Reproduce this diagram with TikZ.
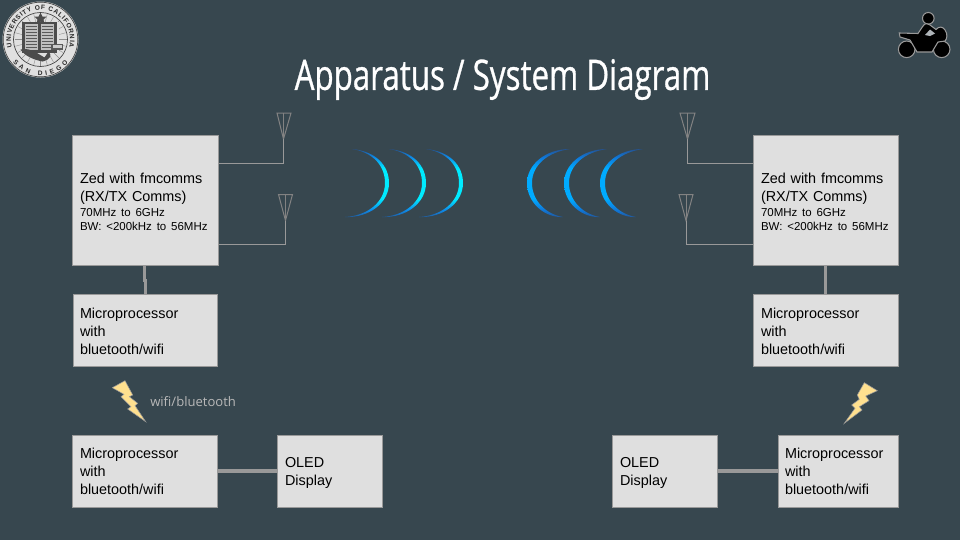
\documentclass[tikz,border=0pt]{standalone}
\usepackage{fontspec}
\setmainfont{Liberation Sans}
\newfontfamily\titlefont[FakeStretch=0.745,FakeBold=0.7]{Open Sans}
\newfontfamily\labelfont{Open Sans}
\usetikzlibrary{decorations.text}
\definecolor{bgc}{HTML}{37474F}
\definecolor{boxc}{HTML}{DFDFDF}
\definecolor{edgec}{HTML}{999999}
\definecolor{boltc}{HTML}{FFE08F}
\newcommand{\bigf}{\fontsize{10.8}{13.5}\selectfont}
\newcommand{\smallf}{\fontsize{8.62}{10.5}\selectfont}
\newcommand{\topstrut}[1]{\rule{0pt}{#1pt}}
\tikzset{
  x=0.75pt,y=-0.75pt,
  box/.style 2 args={draw=edgec,line width=0.75pt,fill=boxc,text=black,rectangle,
    minimum width=#1*0.75pt,minimum height=#2*0.75pt,inner xsep=5pt,inner ysep=0pt,
    text width=(#1-16)*0.75pt,align=left,font=\bigf},
  wire/.style={draw=edgec,line width=0.75pt},
  thick link/.style={draw=edgec,line width=2.4pt},
  antenna/.style={draw=edgec!85!black,line width=0.75pt,line join=miter},
  bolt/.style={fill=boltc,draw=edgec,line width=0.4pt},
}
\pgfdeclareverticalshading{wavecyan}{100bp}{rgb(0bp)=(0.14,0.33,0.58);rgb(25bp)=(0.14,0.33,0.58);rgb(31bp)=(0.05,0.55,0.92);rgb(39bp)=(0,0.92,1);rgb(61bp)=(0,0.92,1);rgb(69bp)=(0.05,0.55,0.92);rgb(75bp)=(0.14,0.33,0.58);rgb(100bp)=(0.14,0.33,0.58)}
\pgfdeclareverticalshading{waveblue}{100bp}{rgb(0bp)=(0.14,0.33,0.58);rgb(25bp)=(0.14,0.33,0.58);rgb(31bp)=(0.06,0.47,0.85);rgb(39bp)=(0,0.67,1);rgb(61bp)=(0,0.67,1);rgb(69bp)=(0.06,0.47,0.85);rgb(75bp)=(0.14,0.33,0.58);rgb(100bp)=(0.14,0.33,0.58)}
\newcommand{\crescentR}[1]{%
  \shade[shading=wavecyan]
    (#1,149) .. controls (#1+23,151) and (#1+37,165) .. (#1+37,183)
    .. controls (#1+37,203) and (#1+17,218) .. (#1-7,217)
    .. controls (#1+14,216) and (#1+33,203) .. (#1+33,183)
    .. controls (#1+33,165) and (#1+20,152) .. (#1,149) -- cycle;}
\newcommand{\crescentL}[1]{%
  \shade[shading=waveblue]
    (#1,149) .. controls (#1-25,149) and (#1-43,165) .. (#1-43,183)
    .. controls (#1-43,203) and (#1-25,218) .. (#1-7,217)
    .. controls (#1-25,214) and (#1-38,200) .. (#1-38,183)
    .. controls (#1-38,165) and (#1-22,152) .. (#1,149) -- cycle;}
\newcommand{\antennashape}[4]{% left x, right x, tip x, top y
  \draw[antenna] (#1,#4) -- (#2,#4) -- (#3,#4+26) -- cycle;
  \draw[antenna] (#3,#4) -- (#3,#4+26);}
\begin{document}
\begin{tikzpicture}
\fill[bgc] (0,0) rectangle (960,540);
\useasboundingbox (0,0) rectangle (960,540);

% title
\node[text=white,font=\titlefont\fontsize{31.5}{36}\selectfont] (title) at (502.5,79.5) {Apparatus / System Diagram};

% seal
\begin{scope}[shift={(0.5,-0.5)}]
\fill[white!88!black] (40,40) circle (38);
\draw[black!75,line width=0.5pt] (40,40) circle (37.3);
\draw[black!75,line width=0.5pt] (40,40) circle (27);
\foreach \a in {0,15,...,345} {\draw[black!45,line width=0.3pt] (40,40) ++(\a:18) -- ++(\a:8);}
\fill[white!88!black] (22,22) rectangle (58,52);
\fill[black!70] (21,22) rectangle (56,53);
\fill[black!25] (24,24) rectangle (37,50);
\fill[black!25] (40,24) rectangle (53,50);
\foreach \yy in {27,30,...,48} {\draw[black!65,line width=0.35pt] (25,\yy) -- (36,\yy); \draw[black!65,line width=0.35pt] (41,\yy) -- (52,\yy);}
\fill[black!70] (40,13) -- (42,17) -- (46,17) -- (43,20) -- (44,24) -- (40,22) -- (36,24) -- (37,20) -- (34,17) -- (38,17) -- cycle;
\fill[black!65] (50,44) rectangle (62,50);
\fill[white!80!black] (52,45) rectangle (61,48);
\fill[black!70] (20,50) .. controls (28,48) and (34,52) .. (44,58) -- (48,52) .. controls (52,56) and (50,60) .. (42,62) .. controls (32,60) and (24,56) .. (20,50) -- cycle;
\path[postaction={decorate,decoration={text along path,text align={fit to path},
   text={|\fontsize{4.9}{6}\selectfont\bfseries\color{black!85}|UNIVERSITY OF CALIFORNIA}}}]
   (40,40) ++(165:29.5) arc[start angle=165,end angle=375,radius=29.5];
\path[postaction={decorate,decoration={text along path,text align={fit to path},
   text={|\fontsize{4.9}{6}\selectfont\bfseries\color{black!85}|SAN DIEGO}}}]
   (40,40) ++(140:36) arc[start angle=140,end angle=40,radius=36];
\end{scope}

% motorcycle
\fill[black,draw=edgec,line width=0.8pt] (906.7,49.3) circle (8.3);
\fill[black,draw=edgec,line width=0.8pt] (941.7,49.3) circle (8.3);
\fill[black,draw=edgec,line width=0.8pt] (928.3,18.3) circle (5.8);
\fill[black,draw=edgec,line width=0.8pt] (899.3,33) -- (918,33.5) -- (923,26) .. controls (925,23) and (928,23) .. (930,25)
  -- (936,29.5) .. controls (939,26) and (943,26.5) .. (945,30) .. controls (948,34) and (947,39) .. (945,41)
  -- (938,42) -- (932,52) -- (917,52) -- (910,40) -- (900,37) -- cycle;
\fill[bgc!40!white] (925,35) -- (930,29.5) -- (935,33.5) -- (930,36) -- cycle;

% boxes
\node[box={146}{130}] (zedL) at (145,200) {{\bigf\topstrut{10}Zed with fmcomms\\(RX/TX Comms)\par}\vskip 0.75pt{\smallf 70MHz to 6GHz\\BW: <200kHz to 56MHz\par}};
\node[box={144}{72},text width=97.5pt] (midL) at (145,330) {\topstrut{9.3}Microprocessor\\with\\bluetooth/wifi};
\node[box={145}{72}] (botL) at (144.5,471) {Microprocessor\\with\\bluetooth/wifi};
\node[box={105}{72}] (oledL) at (329.5,471) {\topstrut{10.8}OLED\\Display};
\node[box={145}{130}] (zedR) at (825.5,200) {{\bigf\topstrut{10}Zed with fmcomms\\(RX/TX Comms)\par}\vskip 0.75pt{\smallf 70MHz to 6GHz\\BW: <200kHz to 56MHz\par}};
\node[box={145}{72}] (midR) at (825.5,330) {\topstrut{9.3}Microprocessor\\with\\bluetooth/wifi};
\node[box={120}{72},text width=79.5pt] (botR) at (838,471) {Microprocessor\\with\\bluetooth/wifi};
\node[box={105}{72}] (oledR) at (664.5,471) {\topstrut{10.8}OLED\\Display};

% links between boxes
\draw[thick link] ([xshift=-0.5pt]zedL.south) -- ++(0,15) coordinate (jogA) -- ++(1.4,0) coordinate (jogB) -- (jogB |- midL.north);
\draw[thick link,line width=1.9pt] (zedR.south) -- (midR.north);
\draw[thick link] (botL.east) -- (oledL.west);
\draw[thick link] (oledR.east) -- (botR.west);

% antennas
\coordinate (antA) at (283.5,139);
\coordinate (antB) at (285.5,220.5);
\coordinate (antC) at (687.5,139);
\coordinate (antD) at (686,220.5);
\antennashape{277}{291}{283.5}{113}
\antennashape{278.5}{292.5}{285.5}{194.5}
\antennashape{680}{695}{687.5}{113}
\antennashape{679}{693}{686}{194.5}
\draw[wire] (antA) |- ([yshift=-21.75pt]zedL.north east);
\draw[wire] (antB) |- ([yshift=-82.5pt]zedL.north east);
\draw[wire] (antC) |- ([yshift=-21.75pt]zedR.north west);
\draw[wire] (antD) |- ([yshift=-82.5pt]zedR.north west);

% waves
\crescentR{352}
\crescentR{389}
\crescentR{426}
\crescentL{570}
\crescentL{607}
\crescentL{643}

% bolts
\path[bolt] (112.3,387.7) -- (125,380.7) -- (132.7,395) -- (129.3,396.7) -- (137.7,403.3) -- (135,405.7) -- (145.7,421.7) -- (127.7,409) -- (131,406.7) -- (121,396.7) -- (124,394.3) -- cycle;
\path[bolt] (864.3,382.7) -- (877.3,390.7) -- (865.7,396) -- (869,400.7) -- (859.3,406.7) -- (862,410) -- (844.3,423.3) -- (855,408.3) -- (851.7,405) -- (859.3,399.3) -- (857.3,395) -- cycle;

\node[text=black!28,font=\labelfont\fontsize{9.8}{12}\selectfont,anchor=west,inner sep=0pt] (wifi) at (150,402) {wifi/bluetooth};
\end{tikzpicture}
\end{document}
